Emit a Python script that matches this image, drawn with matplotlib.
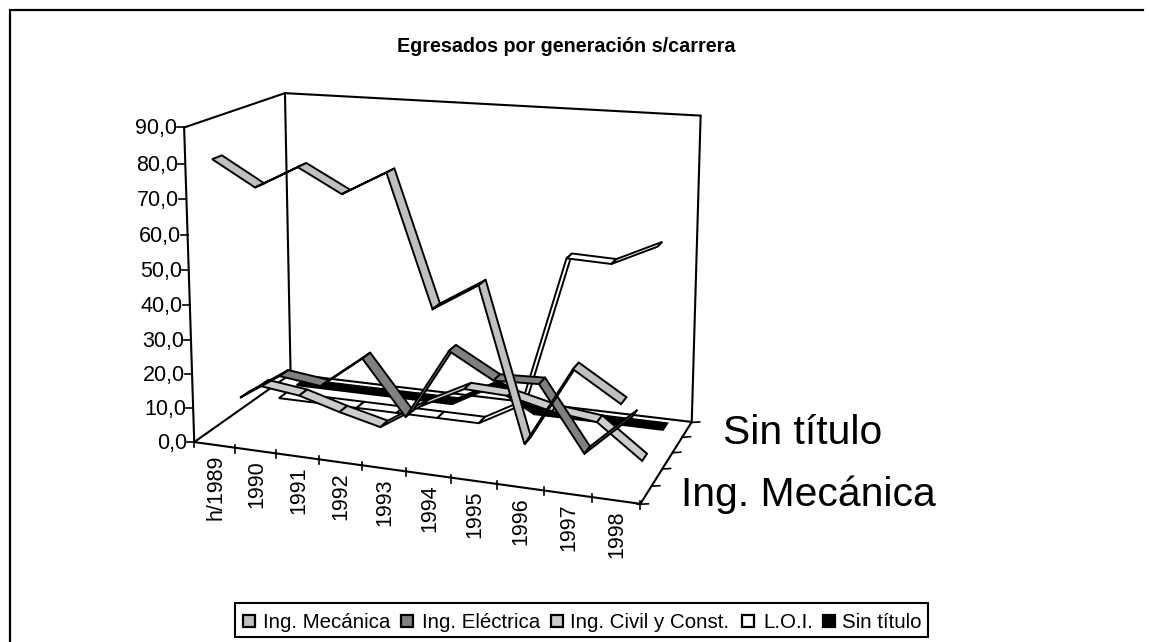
import numpy as np
import matplotlib
matplotlib.use('Agg')
from matplotlib import pyplot as plt
from matplotlib.patches import Polygon, Rectangle

plt.rcParams['font.family'] = ['Liberation Sans', 'DejaVu Sans']

# Data
years = ['h/1989', '1990', '1991', '1992', '1993', '1994', '1995', '1996', '1997', '1998']
mecanica = [81.0, 74.0, 80.5, 74.0, 80.7, 44.8, 52.5, 10.6, 32.6, 24.7]
electrica = [8.5, 16.5, 15.0, 24.5, 9.0, 29.5, 22.5, 23.0, 5.0, 17.0]
civil = [8.0, 6.5, 3.0, 0.0, 8.0, 14.5, 14.0, 11.0, 9.5, 0.0]
loi = [0.0, 0.0, 0.0, 0.0, 0.0, 0.0, 7.0, 51.5, 51.0, 57.0]
sin_titulo = [0.0, 0.0, 0.0, 0.0, 0.0, 7.0, 0.0, 0.0, 0.0, 0.0]
names = ['Ing. Mecánica', 'Ing. Eléctrica', 'Ing. Civil y Const.', 'L.O.I.', 'Sin título']
colors = ['#C0C0C0', '#808080', '#CCCCCC', '#FFFFFF', '#000000']
value_ticks = [0, 10, 20, 30, 40, 50, 60, 70, 80, 90]

series = [mecanica, electrica, civil, loi, sin_titulo]

# Fit a camera from the box corners: (x 0-1, depth 0-1, value 0-90) -> pixels
box = np.array([[0, 0, 0], [0, 1, 0], [1, 0, 0], [1, 1, 0],
                [0, 0, 90], [0, 1, 90], [1, 0, 90], [1, 1, 90]], dtype=float)
pix = np.array([[195, 444], [290, 372], [640, 503], [692, 423],
                [184, 128], [285, 93], [648, 155], [701, 117]], dtype=float)
rows = []
for (x, d, v), (u, w) in zip(box, pix):
    rows.append([x, d, v, 1, 0, 0, 0, 0, -u*x, -u*d, -u*v, -u])
    rows.append([0, 0, 0, 0, x, d, v, 1, -w*x, -w*d, -w*v, -w])
cam = np.linalg.svd(np.array(rows))[2][-1].reshape(3, 4)


def project(x, d, v):
    p = cam @ np.array([x, d, v, 1.0])
    return p[0]/p[2], p[1]/p[2]


fig = plt.figure(figsize=(11.49, 6.42), dpi=100)
ax = fig.add_axes([0, 0, 1, 1])
ax.set_xlim(0, 1149)
ax.set_ylim(642, 0)
ax.axis('off')

# Outer frame (only top and left show)
ax.plot([10, 10, 1143], [642, 10, 10], color='k', lw=1.6, solid_joinstyle='miter')

ax.text(566, 46.5, 'Egresados por generación s/carrera', ha='center', va='center',
        fontsize=14.2, fontweight='bold')


def edge(a, b, lw=1.5):
    pa = project(*a)
    pb = project(*b)
    ax.plot([pa[0], pb[0]], [pa[1], pb[1]], color='k', lw=lw, solid_capstyle='round')


# Walls and floor
edge((0, 0, 0), (0, 0, 90))
edge((0, 0, 90), (0, 1, 90))
edge((0, 1, 90), (1, 1, 90))
edge((0, 1, 0), (0, 1, 90))
edge((1, 1, 0), (1, 1, 90))
edge((0, 0, 0), (0, 1, 0))
edge((0, 1, 0), (1, 1, 0))
edge((0, 0, 0), (1, 0, 0))
edge((1, 0, 0), (1, 1, 0))

# Value axis
for v in value_ticks:
    u, w = project(0, 0, v)
    ax.plot([u-7, u], [w, w], color='k', lw=1.2)
    ax.text(u-7, w+1.5, ('%.1f' % v).replace('.', ','), ha='right', va='center', fontsize=15.5)

# Category axis
n = len(years)
for i in range(n+1):
    u, w = project(i/n, 0, 0)
    ax.plot([u, u], [w-3, w+5], color='k', lw=1.2)
for i, year in enumerate(years):
    u, w = project((i+0.5)/n, 0, 0)
    ax.text(u+1, w+10, year, rotation=90, ha='center', va='top', fontsize=15.5)

# Depth axis
for k in range(len(names)+1):
    u, w = project(1, k/len(names), 0)
    ax.plot([u-(3 if k == 0 else 0), u+8], [w+0.5, w], color='k', lw=1.2)
ax.text(803, 433, names[4], ha='center', va='center', fontsize=29.4)
ax.text(808, 495, names[0], ha='center', va='center', fontsize=29.4)

# Ribbons, back to front
half = 0.045
for k in range(len(series)-1, -1, -1):
    d = (k+0.5)/len(series)
    vals = series[k]
    for i in range(n-1):
        x0 = (i+0.5)/n
        x1 = (i+1.5)/n
        poly = [project(x0, d-half, vals[i]), project(x1, d-half, vals[i+1]),
                project(x1, d+half, vals[i+1]), project(x0, d+half, vals[i])]
        ax.add_patch(Polygon(poly, closed=True, facecolor=colors[k], edgecolor='k',
                             lw=1.4, joinstyle='miter', zorder=3+len(series)-k))

# Legend
ax.add_patch(Rectangle((235, 603), 693, 34, facecolor='w', edgecolor='k', lw=1.5))
key_x = [243, 401, 551, 742, 823]
text_x = [263, 422, 570, 763, 842]
for k in range(len(names)):
    ax.add_patch(Rectangle((key_x[k], 615), 12, 12, facecolor=colors[k], edgecolor='k', lw=1.6))
    ax.text(text_x[k], 623, names[k], ha='left', va='center', fontsize=14.8)

plt.savefig('out.png', dpi=100)
